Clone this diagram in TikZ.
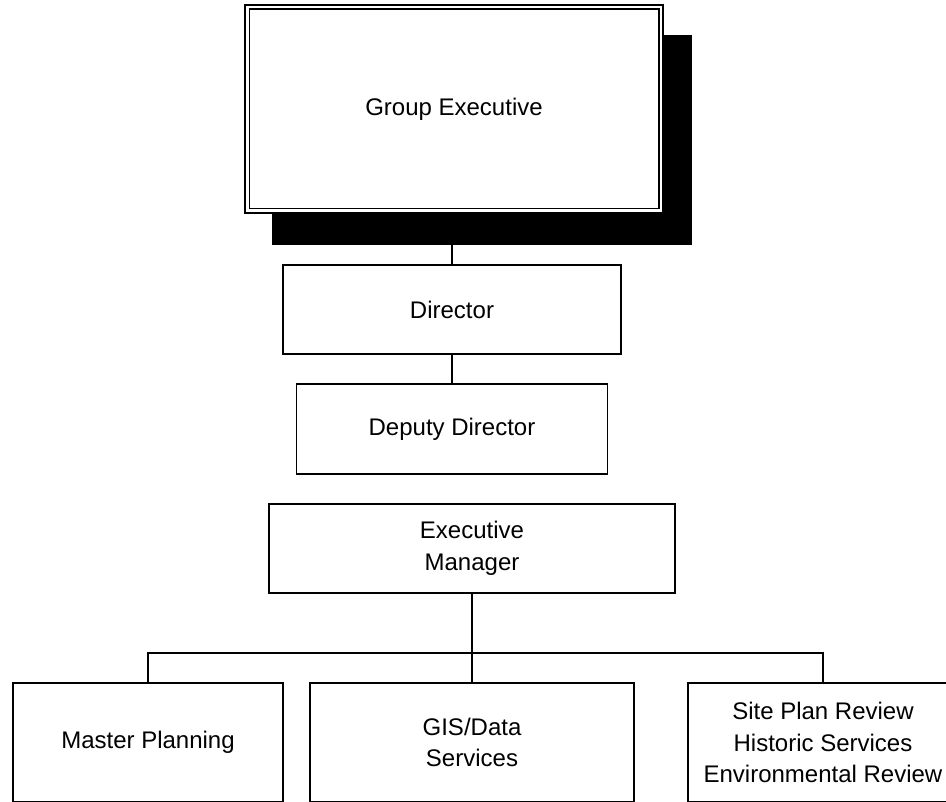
\documentclass[tikz,border=0pt]{standalone}
\usepackage{fontspec}
\setmainfont{Liberation Sans}
\usetikzlibrary{shadows}

\begin{document}
\begin{tikzpicture}[x=1pt, y=-1pt, line width=1.5pt,
every node/.style={draw, fill=white, align=center, inner sep=1pt,
    font=\fontsize{24}{31.7}\selectfont},
post/.style={minimum height=89pt},
dept/.style={minimum height=119pt, minimum width=270pt}
]
\useasboundingbox (0,0) rectangle (946,802);
\clip (0,0) rectangle (946,802);

\node (ge) [minimum width=418pt, minimum height=208pt,
    general shadow={fill=black, draw=black, line width=2pt,
        shadow xshift=28pt, shadow yshift=-31pt}] at (454,109) {Group Executive};
\draw ([shift={(5,5)}]ge.north west) rectangle ([shift={(-5,-5)}]ge.south east);

\node (dir) [post, minimum width=338pt] at (452,309.5) {Director};
\node (dep) [post, minimum width=311pt, minimum height=90pt] at (452,429) {Deputy Director};
\node (em)  [post, minimum width=406pt] at (472,548.5) {Executive\\Manager};

\node (mp)  [dept] at (148,742.5) {Master Planning};
\node (gis) [dept, minimum width=324pt] at (472,742.5) {GIS/Data\\Services};
\node (spr) [dept] at (823,742.5) {Site Plan Review\\Historic Services\\Environmental Review};

\coordinate (bus) at (472,653);

\draw (dir.north) -- (dir.north |- ge.south);
\draw (dep.north) -- (dep.north |- dir.south);
\draw (em.south) -- (bus);
\foreach \n in {mp,gis,spr}
    \draw (bus) -| (\n.north);
\end{tikzpicture}
\end{document}
